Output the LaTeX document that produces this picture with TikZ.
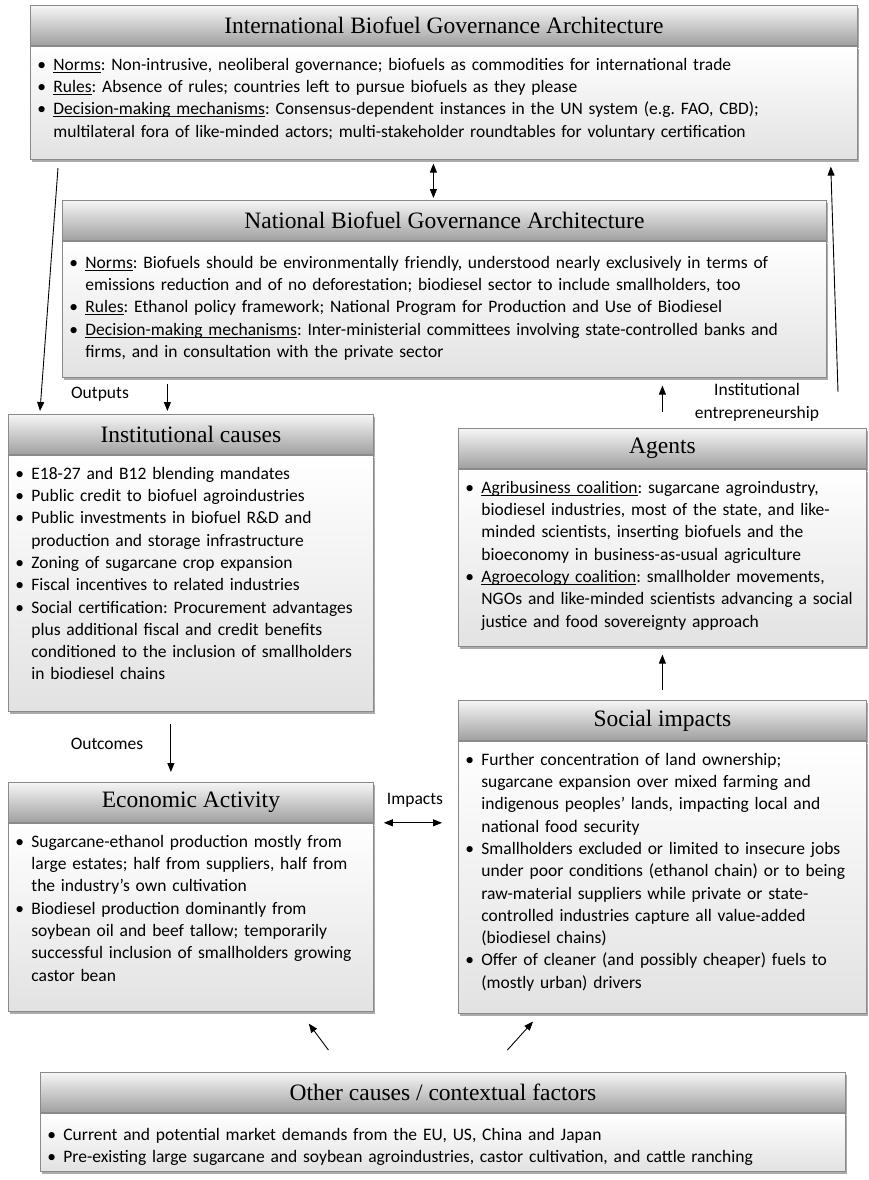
\documentclass[tikz,border=0pt]{standalone}
\usepackage{fontspec}
\setmainfont{Carlito}
\newfontfamily\headfont{Liberation Serif}
\usetikzlibrary{arrows.meta, positioning, shadows}
\definecolor{boxline}{RGB}{138, 138, 138}
\definecolor{headtop}{RGB}{246, 246, 246}
\definecolor{headbot}{RGB}{160, 160, 160}
\definecolor{bodybot}{RGB}{226, 226, 226}
\definecolor{shade}{RGB}{150, 150, 150}
\newcommand{\fbul}{\hangindent=17pt\hangafter=1\makebox[17pt][l]{\hspace{1pt}\textbullet}}
\newcommand{\bul}{\par\fbul}
\newcommand{\undl}[1]{\setbox0\hbox{#1}\rlap{\rule[-2.2pt]{\wd0}{0.6pt}}\box0}
\frenchspacing

\begin{document}
\begin{tikzpicture}[x=1pt, y=-1pt, >={Triangle[length=9pt, width=7pt]},
  head/.style={draw=boxline, line width=0.8pt, top color=headtop, bottom color=headbot,
    minimum height=40pt, inner sep=0pt, font=\headfont\fontsize{23.5}{26}\selectfont,
    drop shadow={shadow xshift=1.2pt, shadow yshift=-2.5pt, fill=shade, opacity=0.8}},
  body/.style={draw=boxline, line width=0.8pt, top color=white, bottom color=bodybot,
    inner xsep=6pt, inner ysep=0pt, text height=24pt, align=left,
    font=\fontsize{17.5}{22.3}\selectfont,
    drop shadow={shadow xshift=1.2pt, shadow yshift=-2.5pt, fill=shade, opacity=0.8}},
  link/.style={line width=0.9pt},
  lbl/.style={font=\fontsize{17.5}{23}\selectfont, inner sep=0pt, align=center}]

  \path[fill=white, use as bounding box] (0,0) rectangle (868,1180);

  % international level
  \node[head, minimum width=827pt, anchor=north west] (intl-head) at (30,5)
    {International Biofuel Governance Architecture};
  \node[body, text width=815pt, text depth=89pt, below=0pt of intl-head] (intl-body) {%
    \fbul\undl{Norms}: Non-intrusive, neoliberal governance; biofuels as commodities for international trade
    \bul\undl{Rules}: Absence of rules; countries left to pursue biofuels as they please
    \bul\undl{Decision-making mechanisms}: Consensus-dependent instances in the UN system (e.g. FAO, CBD);\newline
    multilateral fora of like-minded actors; multi-stakeholder roundtables for voluntary certification\par};

  % national level
  \node[head, minimum width=764pt, anchor=north west] (natl-head) at (62,200)
    {National Biofuel Governance Architecture};
  \node[body, text width=752pt, text height=27pt, text depth=109pt, below=0pt of natl-head] (natl-body) {%
    \fbul\undl{Norms}: Biofuels should be environmentally friendly, understood nearly exclusively in terms of\newline
    emissions reduction and of no deforestation; biodiesel sector to include smallholders, too
    \bul\undl{Rules}: Ethanol policy framework; National Program for Production and Use of Biodiesel
    \bul\undl{Decision-making mechanisms}: Inter-ministerial committees involving state-controlled banks and\newline
    firms, and in consultation with the private sector\par};

  % left column
  \node[head, minimum width=365pt, anchor=north west] (inst-head) at (8,414) {Institutional causes};
  \node[body, text width=353pt, text depth=232pt, below=0pt of inst-head] (inst-body) {%
    \fbul E18-27 and B12 blending mandates
    \bul Public credit to biofuel agroindustries
    \bul Public investments in biofuel R\&D and\newline
    production and storage infrastructure
    \bul Zoning of sugarcane crop expansion
    \bul Fiscal incentives to related industries
    \bul Social certification: Procurement advantages\newline
    plus additional fiscal and credit benefits\newline
    conditioned to the inclusion of smallholders\newline
    in biodiesel chains\par};

  \node[head, minimum width=365pt, anchor=north west] (econ-head) at (8,782) {Economic Activity};
  \node[body, text width=353pt, text depth=164pt, below=0pt of econ-head] (econ-body) {%
    \fbul Sugarcane-ethanol production mostly from\newline
    large estates; half from suppliers, half from\newline
    the industry’s own cultivation
    \bul Biodiesel production dominantly from\newline
    soybean oil and beef tallow; temporarily\newline
    successful inclusion of smallholders growing\newline
    castor bean\par};

  % right column
  \node[head, minimum width=408pt, anchor=north west] (agents-head) at (458,428) {Agents};
  \node[body, text width=396pt, text depth=153pt, below=0pt of agents-head] (agents-body) {%
    \fbul\undl{Agribusiness coalition}: sugarcane agroindustry,\newline
    biodiesel industries, most of the state, and like-\newline
    minded scientists, inserting biofuels and the\newline
    bioeconomy in business-as-usual agriculture
    \bul\undl{Agroecology coalition}: smallholder movements,\newline
    NGOs and like-minded scientists advancing a social\newline
    justice and food sovereignty approach\par};

  \node[head, minimum width=408pt, anchor=north west] (soc-head) at (458,700) {Social impacts};
  \node[body, text width=396pt, text depth=248pt, below=0pt of soc-head] (soc-body) {%
    \fbul Further concentration of land ownership;\newline
    sugarcane expansion over mixed farming and\newline
    indigenous peoples’ lands, impacting local and\newline
    national food security
    \bul Smallholders excluded or limited to insecure jobs\newline
    under poor conditions (ethanol chain) or to being\newline
    raw-material suppliers while private or state-\newline
    controlled industries capture all value-added\newline
    (biodiesel chains)
    \bul Offer of cleaner (and possibly cheaper) fuels to\newline
    (mostly urban) drivers\par};

  % context
  \node[head, minimum width=805pt, anchor=north west] (other-head) at (40,1072)
    {Other causes / contextual factors};
  \node[body, text width=793pt, text height=27pt, text depth=31pt, below=0pt of other-head] (other-body) {%
    \fbul Current and potential market demands from the EU, US, China and Japan
    \bul Pre-existing large sugarcane and soybean agroindustries, castor cultivation, and cattle ranching\par};

  % labels
  \node[lbl] (outputs) at (100,394) {Outputs};
  \node[lbl] (outcomes) at (107,744) {Outcomes};
  \node[lbl] (impacts) at (415,800) {Impacts};
  \node[lbl] (entre) at (757,402) {Institutional\\entrepreneurship};

  % connectors
  \coordinate (gov-out) at (58,168);
  \coordinate (ent-out) at (838,392);
  \draw[link, <->] ([xshift=-10.5pt, yshift=-4pt]intl-body.south) -- ([xshift=-11pt, yshift=2pt]natl-head.north);
  \draw[link, ->] (gov-out) -- ([xshift=32pt, yshift=3pt]inst-head.north west);
  \draw[link, ->] (ent-out) -- ([xshift=-27pt, yshift=-7pt]intl-body.south east);
  \draw[link, ->] ([xshift=-277pt, yshift=-6pt]natl-body.south) -- ([xshift=-23.5pt, yshift=3pt]inst-head.north);
  \draw[link, ->, shorten <=16pt, shorten >=8pt] (agents-head.north) -- (agents-head.north |- natl-body.south);
  \draw[link, ->, shorten <=10pt, shorten >=8pt] (soc-head.north) -- (agents-body.south);
  \draw[link, ->, shorten <=12pt, shorten >=10pt] ([xshift=-20pt]inst-body.south) -- ([xshift=-20pt]econ-head.north);
  \draw[link, <->, shorten <=10pt, shorten >=16pt] (econ-head.south east) -- (econ-head.south east -| soc-head.west);
  \draw[link, ->] ([xshift=-114.5pt, yshift=22pt]other-head.north) -- ([xshift=-65pt, yshift=-12pt]econ-body.south east);
  \draw[link, ->] ([xshift=64.5pt, yshift=22pt]other-head.north) -- ([xshift=75pt, yshift=-8pt]soc-body.south west);
\end{tikzpicture}
\end{document}
